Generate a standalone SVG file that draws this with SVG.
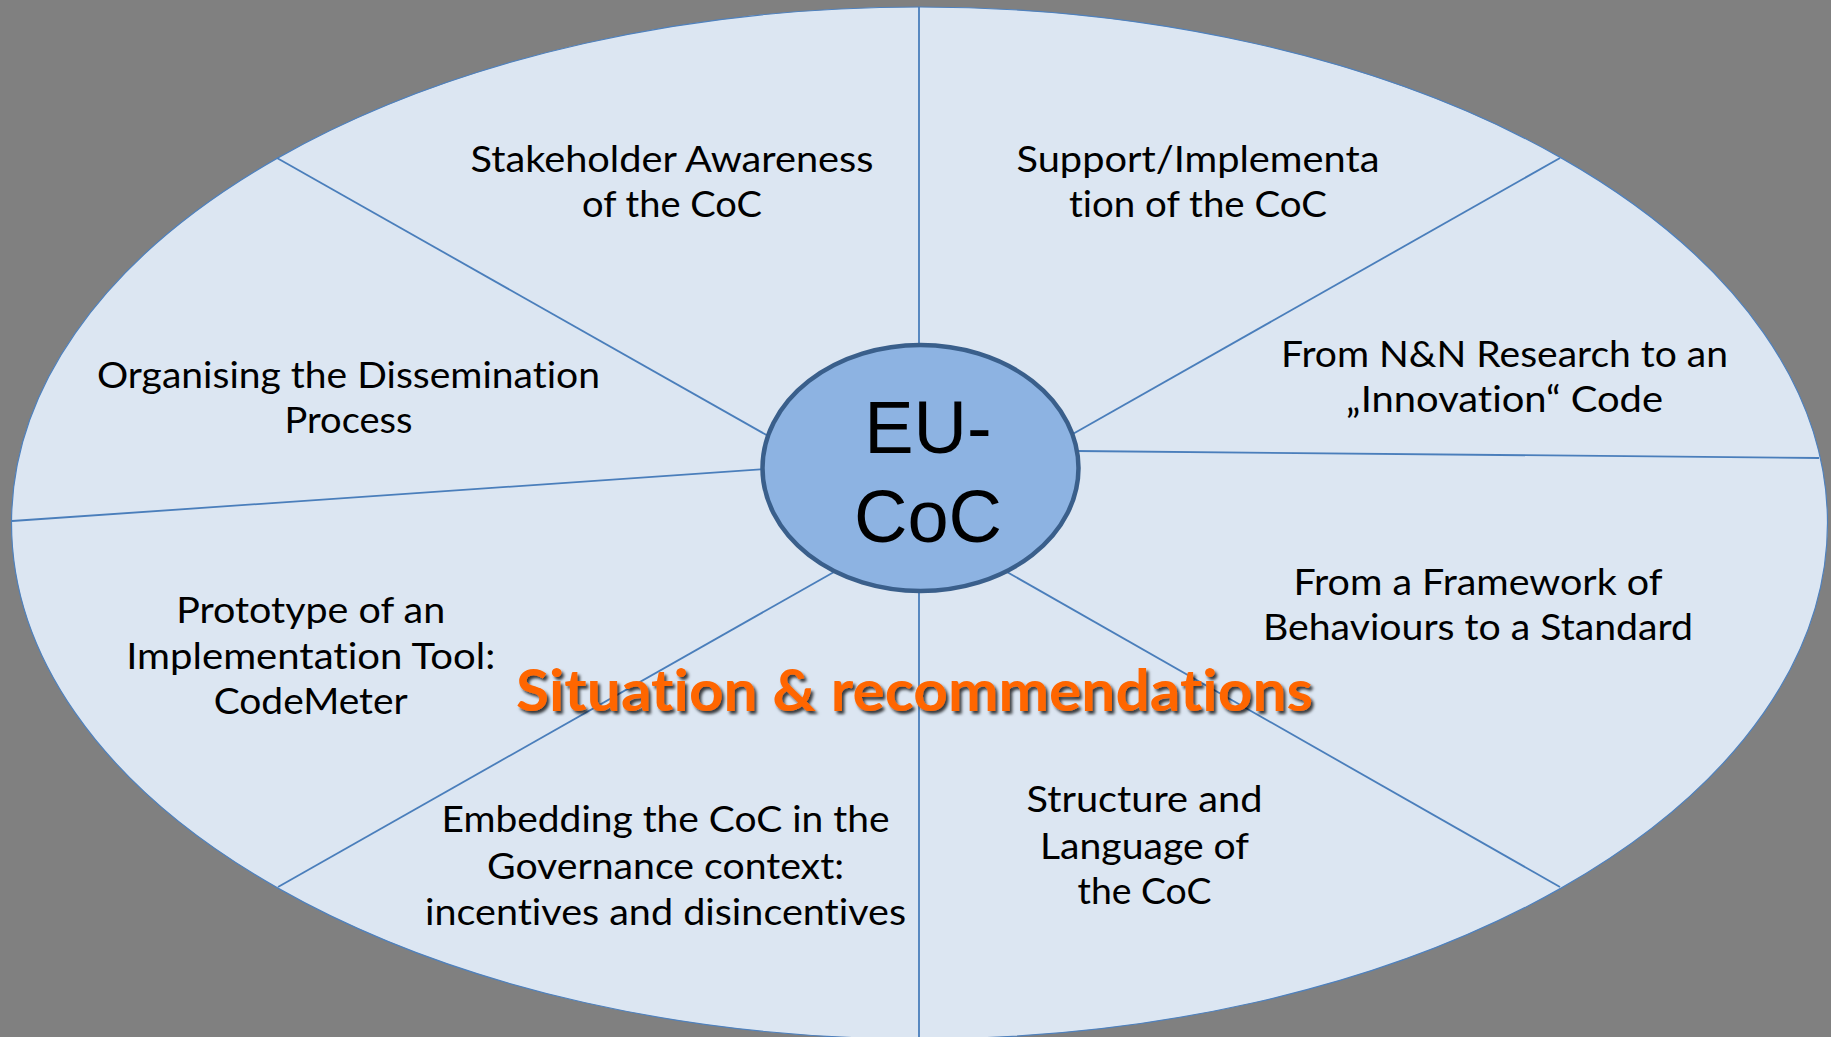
<svg xmlns="http://www.w3.org/2000/svg" width="1831" height="1037" viewBox="0 0 1831 1037">
  <defs>
    <style>
      text { font-variant-ligatures: none; font-feature-settings: "liga" 0, "clig" 0; }
      .lbl { font-family: Lato, "Open Sans", "Liberation Sans", sans-serif; font-size: 36px; fill: #000; text-anchor: middle; }
      .spoke { stroke: #4A7EBB; stroke-width: 1.8; fill: none; }
      .hub { font-family: "Liberation Sans", Arial, sans-serif; font-size: 74px; fill: #000; text-anchor: middle; }
      .title { font-family: Lato, "Open Sans", "Liberation Sans", sans-serif; font-size: 58px; font-weight: bold; fill: #FF6600; }
    </style>
    <filter id="shadow" x="-5%" y="-30%" width="110%" height="160%">
      <feDropShadow dx="2.5" dy="3" stdDeviation="1.5" flood-color="#000" flood-opacity="0.75"/>
    </filter>
  </defs>

  <rect x="0" y="0" width="1831" height="1037" fill="#808080"/>

  <g id="outer-ellipse">
    <ellipse cx="919.5" cy="523" rx="908" ry="516" fill="#DCE6F2" stroke="#4F81BD" stroke-width="1.2"/>
  </g>

  <g id="connectors">
    <line class="spoke" x1="919" y1="7" x2="919" y2="350"/>
    <line class="spoke" x1="277" y1="158" x2="770" y2="437"/>
    <line class="spoke" x1="12" y1="521" x2="766" y2="469"/>
    <line class="spoke" x1="278" y1="887" x2="834" y2="572"/>
    <line class="spoke" x1="919" y1="588" x2="919" y2="1037"/>
    <line class="spoke" x1="1007" y1="572" x2="1560" y2="887"/>
    <line class="spoke" x1="1076" y1="451" x2="1819" y2="458"/>
    <line class="spoke" x1="1071" y1="435" x2="1560" y2="158"/>
  </g>

  <g id="hub">
    <ellipse cx="920.5" cy="468" rx="158" ry="123" fill="#8DB3E2" stroke="#3A5F8B" stroke-width="4.5"/>
    <text class="hub" x="928" y="453">EU-</text>
    <text class="hub" x="928" y="542">CoC</text>
  </g>

  <g id="node-stakeholder">
    <text class="lbl" x="672" y="171.5" textLength="403" lengthAdjust="spacingAndGlyphs">Stakeholder Awareness</text>
    <text class="lbl" x="672" y="216.5" textLength="180" lengthAdjust="spacingAndGlyphs">of the CoC</text>
  </g>

  <g id="node-support">
    <text class="lbl" x="1198" y="171.5" textLength="363" lengthAdjust="spacingAndGlyphs">Support/Implementa</text>
    <text class="lbl" x="1198" y="216.5" textLength="258" lengthAdjust="spacingAndGlyphs">tion of the CoC</text>
  </g>

  <g id="node-organising">
    <text class="lbl" x="348.5" y="388" textLength="503" lengthAdjust="spacingAndGlyphs">Organising the Dissemination</text>
    <text class="lbl" x="348.5" y="433" textLength="128" lengthAdjust="spacingAndGlyphs">Process</text>
  </g>

  <g id="node-research">
    <text class="lbl" x="1504.5" y="366.5" textLength="447" lengthAdjust="spacingAndGlyphs">From N&amp;N Research to an</text>
    <text class="lbl" x="1504.5" y="411.5" textLength="317" lengthAdjust="spacingAndGlyphs">„Innovation“ Code</text>
  </g>

  <g id="node-framework">
    <text class="lbl" x="1478" y="595" textLength="369" lengthAdjust="spacingAndGlyphs">From a Framework of</text>
    <text class="lbl" x="1478" y="640" textLength="430" lengthAdjust="spacingAndGlyphs">Behaviours to a Standard</text>
  </g>

  <g id="node-prototype">
    <text class="lbl" x="310.7" y="623" textLength="269" lengthAdjust="spacingAndGlyphs">Prototype of an</text>
    <text class="lbl" x="310.7" y="668.5" textLength="369" lengthAdjust="spacingAndGlyphs">Implementation Tool:</text>
    <text class="lbl" x="310.7" y="713.5" textLength="194" lengthAdjust="spacingAndGlyphs">CodeMeter</text>
  </g>

  <g id="node-embedding">
    <text class="lbl" x="665.5" y="832" textLength="448" lengthAdjust="spacingAndGlyphs">Embedding the CoC in the</text>
    <text class="lbl" x="665.5" y="878.5" textLength="357" lengthAdjust="spacingAndGlyphs">Governance context:</text>
    <text class="lbl" x="665.5" y="925" textLength="481" lengthAdjust="spacingAndGlyphs">incentives and disincentives</text>
  </g>

  <g id="node-structure">
    <text class="lbl" x="1144.5" y="812" textLength="236" lengthAdjust="spacingAndGlyphs">Structure and</text>
    <text class="lbl" x="1144.5" y="858.5" textLength="209" lengthAdjust="spacingAndGlyphs">Language of</text>
    <text class="lbl" x="1144.5" y="903.5" textLength="134" lengthAdjust="spacingAndGlyphs">the CoC</text>
  </g>

  <g id="title">
    <text class="title" x="516" y="711" textLength="797" lengthAdjust="spacingAndGlyphs" filter="url(#shadow)">Situation &amp; recommendations</text>
  </g>
</svg>
